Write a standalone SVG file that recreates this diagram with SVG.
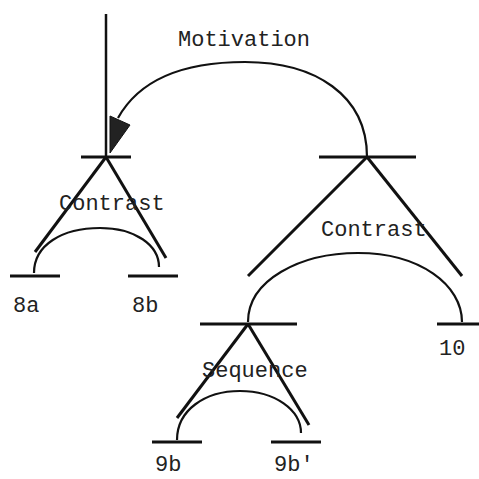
<svg xmlns="http://www.w3.org/2000/svg" width="479" height="479" viewBox="0 0 479 479">
<style>
.t{font-family:"Liberation Mono","Courier New",monospace;font-size:22px;fill:#222}
.br{stroke:#111;stroke-width:3;fill:none}
.arc{stroke:#111;stroke-width:2.2;fill:none}
</style>
<rect width="479" height="479" fill="#fff"/>
<g id="connectors">
<line class="br" x1="106" y1="14" x2="106" y2="157" style="stroke-width:2.5"/>
<path class="arc" d="M367,157 C367,95 315,62 245,62 C180,62 138,82 118,118"/>
<polygon points="110,116 130,125 110,153" fill="#222" stroke="#111" stroke-width="1"/>
<line class="br" x1="106" y1="157" x2="35" y2="252"/>
<line class="br" x1="106" y1="157" x2="166" y2="258"/>
<line class="br" x1="367" y1="157" x2="248" y2="276"/>
<line class="br" x1="367" y1="157" x2="462" y2="276"/>
<line class="br" x1="248" y1="324" x2="177" y2="418"/>
<line class="br" x1="248" y1="324" x2="309" y2="425"/>
<path class="arc" d="M34,273 C34,245 62,228 100,228 C135,228 159,245 159,267"/>
<path class="arc" d="M248,322 C248,280 300,253 358,253 C420,253 462,285 462,322"/>
<path class="arc" d="M177,440 C177,410 205,391 240,391 C275,391 301,410 301,433"/>
</g>
<g id="n1"><line class="br" x1="81" y1="157" x2="131" y2="157"/><text class="t" x="59" y="210">Contrast</text></g>
<g id="n2"><line class="br" x1="319" y1="157" x2="416" y2="157"/><text class="t" x="321" y="236">Contrast</text></g>
<g id="n3"><line class="br" x1="200" y1="324" x2="297" y2="324"/><text class="t" x="202" y="377">Sequence</text></g>
<g id="n8a"><line class="br" x1="10" y1="276" x2="60" y2="276"/><text class="t" x="13" y="312">8a</text></g>
<g id="n8b"><line class="br" x1="128" y1="276" x2="178" y2="276"/><text class="t" x="132" y="312">8b</text></g>
<g id="n10"><line class="br" x1="437" y1="324" x2="479" y2="324"/><text class="t" x="439" y="355">10</text></g>
<g id="n9b"><line class="br" x1="152" y1="442" x2="202" y2="442"/><text class="t" x="155" y="471">9b</text></g>
<g id="n9b2"><line class="br" x1="271" y1="442" x2="321" y2="442"/><text class="t" x="274" y="471">9b'</text></g>
<g id="label"><text class="t" x="178" y="46">Motivation</text></g>
</svg>
